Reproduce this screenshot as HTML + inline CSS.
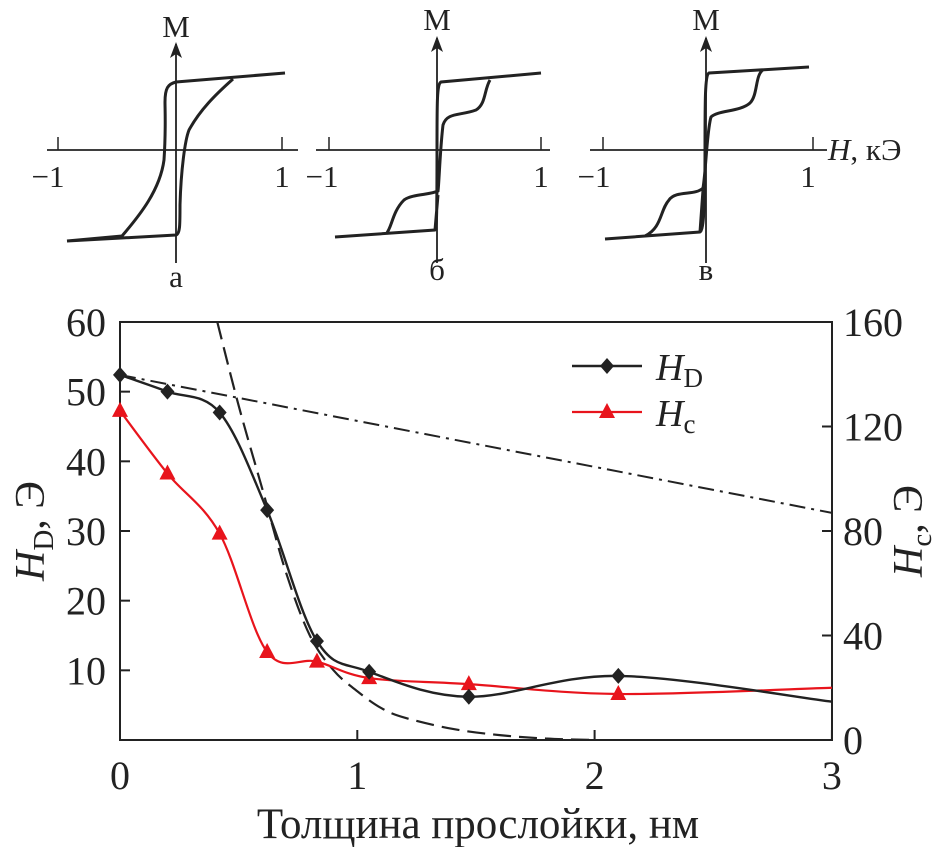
<!DOCTYPE html>
<html><head><meta charset="utf-8"><style>
html,body{margin:0;padding:0;background:#fff}
svg{display:block;font-family:"Liberation Serif",serif}
</style></head><body>
<svg id="c" width="949" height="847" viewBox="0 0 949 847" xmlns="http://www.w3.org/2000/svg">
<defs><marker id="ar" markerWidth="16" markerHeight="12" refX="14" refY="6" orient="auto" markerUnits="userSpaceOnUse"><path d="M0,0 L16,6 L0,12 L4,6 Z" fill="#222"/></marker></defs>
<g fill="none" stroke="#222" stroke-width="2">
 <g>
  <line x1="47" y1="150" x2="298" y2="150" stroke-width="1.8"/>
  <line x1="176" y1="263" x2="176" y2="44" stroke-width="1.8" marker-end="url(#ar)"/>
  <line x1="58" y1="137" x2="58" y2="150" stroke-width="1.5"/><line x1="282" y1="137" x2="282" y2="150" stroke-width="1.5"/>
  <path stroke-width="3" d="M67,241 L176,235 C180,234 180,225 180,205 C181,170 185,140 189,130 C200,110 215,95 233,79 M67,241 L122,236 C140,215 160,190 164,160 C166,130 165,110 165,102 C165,88 168,84 176,82 L285,73"/>
 </g>
 <g>
  <line x1="316" y1="150" x2="550" y2="150" stroke-width="1.8"/>
  <line x1="437" y1="263" x2="437" y2="38" stroke-width="1.8" marker-end="url(#ar)"/>
  <line x1="329" y1="137" x2="329" y2="150" stroke-width="1.5"/><line x1="541" y1="137" x2="541" y2="150" stroke-width="1.5"/>
  <path stroke-width="3" d="M335,237 L435,230 C437,229 437,200 437,150 C437,100 437,84 441,82 L541,73 M490,80 C484,90 486,104 476,110 C460,116 447,112 443,125 C440,150 439,185 438,191 C430,195 412,194 404,200 C392,212 392,228 386,234 M435,230 L438,195"/>
 </g>
 <g>
  <line x1="590" y1="150" x2="827" y2="150" stroke-width="1.8"/>
  <line x1="706" y1="263" x2="706" y2="38" stroke-width="1.8" marker-end="url(#ar)"/>
  <line x1="603" y1="137" x2="603" y2="150" stroke-width="1.5"/><line x1="813" y1="137" x2="813" y2="150" stroke-width="1.5"/>
  <path stroke-width="3" d="M605,239 L700,232 C704,231 705,200 705,150 C705,100 705,75 709,73 L809,67 M763,70 C755,75 758,95 750,103 C740,112 718,110 711,117 C707,130 706,170 703,188 C695,196 676,190 669,200 C660,210 662,228 645,236 M700,232 L703,190"/>
 </g>
</g>
<g fill="#222" font-size="31">
 <text x="176" y="37" text-anchor="middle">M</text>
 <text x="437" y="30" text-anchor="middle">M</text>
 <text x="706" y="30" text-anchor="middle">M</text>
 <text x="48" y="187" text-anchor="middle">−1</text>
 <text x="282" y="187" text-anchor="middle">1</text>
 <text x="322" y="187" text-anchor="middle">−1</text>
 <text x="541" y="187" text-anchor="middle">1</text>
 <text x="594" y="187" text-anchor="middle">−1</text>
 <text x="808" y="187" text-anchor="middle">1</text>
 <text x="828" y="160"><tspan font-style="italic">H</tspan>, кЭ</text>
 <text x="176" y="287" text-anchor="middle">а</text>
 <text x="437" y="280" text-anchor="middle">б</text>
 <text x="706" y="280" text-anchor="middle">в</text>
</g>
<g id="main"></g>
</svg>
<script>
const xTicks=[0,1,2,3];
const yLeftTicks=[10,20,30,40,50,60];
const yRightTicks=[0,40,80,120,160];
const hdX=[0,0.2,0.42,0.62,0.83,1.05,1.47,2.1];
const hdY=[52.4,50,47,33,14.2,9.8,6.2,9.2];
const hdCurveEnd=[3,5.5];
const hcX=[0,0.2,0.42,0.62,0.83,1.05,1.47,2.1];
const hcY=[126,102,79,33.7,30,23.7,21.4,17.6];
const hcCurveEnd=[3,20];
const dashX=[0.41,0.5,0.6,0.7,0.8,0.9,1.0,1.1,1.2,1.4,1.6,1.8,2.0];
const dashY=[60,48,36,24,15,10,7,4.6,3.2,1.6,0.7,0.2,0];
const dotDashY=[52.4,32.6];

const X=v=>120+v*237.3, YL=v=>740-v*6.967, YR=v=>740-v*2.6125;
const NS="http://www.w3.org/2000/svg", g=document.getElementById('main');
function mk(t,a,p){const e=document.createElementNS(NS,t);for(const k in a)e.setAttribute(k,a[k]);(p||g).appendChild(e);return e;}
function smooth(pts){let d="M"+pts[0][0]+","+pts[0][1];for(let i=0;i<pts.length-1;i++){const p0=pts[i-1]||pts[i],p1=pts[i],p2=pts[i+1],p3=pts[i+2]||p2;
 d+=` C${p1[0]+(p2[0]-p0[0])/6},${p1[1]+(p2[1]-p0[1])/6} ${p2[0]-(p3[0]-p1[0])/6},${p2[1]-(p3[1]-p1[1])/6} ${p2[0]},${p2[1]}`;}return d;}
let e=mk('rect',{x:120,y:322,width:712,height:418,fill:'none',stroke:'#222','stroke-width':2});


xTicks.forEach(v=>{let t=mk('line',{x1:X(v),y1:740,x2:X(v),y2:730,stroke:'#222','stroke-width':2});
 
 
 let l=mk('text',{x:X(v),y:789,'text-anchor':'middle','font-size':40,fill:'#222'});l.textContent=v;
 
 });
[0].concat(yLeftTicks).forEach(v=>{let t=mk('line',{x1:120,y1:YL(v),x2:130,y2:YL(v),stroke:'#222','stroke-width':2});
 
 
 if(v>0){let l=mk('text',{x:106,y:YL(v)+14,'text-anchor':'end','font-size':40,fill:'#222'});l.textContent=v;
 
 }});
yRightTicks.forEach(v=>{let t=mk('line',{x1:822,y1:YR(v),x2:832,y2:YR(v),stroke:'#222','stroke-width':2});
 
 
 let l=mk('text',{x:843,y:YR(v)+14,'font-size':40,fill:'#222'});l.textContent=v;
 
 });
let xt=mk('text',{x:478,y:838,'text-anchor':'middle','font-size':43,fill:'#222'});xt.textContent='Толщина прослойки, нм';


let yl=mk('text',{transform:'translate(44,531) rotate(-90)','text-anchor':'middle','font-size':42,fill:'#222'});
yl.innerHTML='<tspan font-style="italic">H</tspan><tspan font-size="29" dy="9">D</tspan><tspan dy="-9">, Э</tspan>';


let yr=mk('text',{transform:'translate(922,531) rotate(-90)','text-anchor':'middle','font-size':42,fill:'#222'});
yr.innerHTML='<tspan font-style="italic">H</tspan><tspan font-size="29" dy="9">c</tspan><tspan dy="-9">, Э</tspan>';


const cp=mk('clipPath',{id:'cp'});
mk('rect',{x:120,y:322,width:712,height:418},cp);
let dd=mk('line',{x1:X(0),y1:YL(dotDashY[0]),x2:X(3),y2:YL(dotDashY[1]),stroke:'#222','stroke-width':2,'stroke-dasharray':'16,6,3,6'});


let ds=mk('path',{d:smooth(dashX.map((x,i)=>[X(x),YL(dashY[i])])),fill:'none',stroke:'#222','stroke-width':2.2,'stroke-dasharray':'18,8','clip-path':'url(#cp)'});


let hcP=hcX.map((x,i)=>[X(x),YR(hcY[i])]).concat([[X(hcCurveEnd[0]),YR(hcCurveEnd[1])]]);
let hl=mk('path',{d:smooth(hcP),fill:'none',stroke:'#e8141c','stroke-width':2.2});


let hdP=hdX.map((x,i)=>[X(x),YL(hdY[i])]).concat([[X(hdCurveEnd[0]),YL(hdCurveEnd[1])]]);
let dl=mk('path',{d:smooth(hdP),fill:'none',stroke:'#222','stroke-width':2.4});


hcX.forEach((x,i)=>{const cx=X(x),cy=YR(hcY[i]);let m=mk('path',{d:`M${cx},${cy-9} L${cx+8},${cy+6} L${cx-8},${cy+6} Z`,fill:'#e8141c'});
 
 });
hdX.forEach((x,i)=>{const cx=X(x),cy=YL(hdY[i]);let m=mk('path',{d:`M${cx},${cy-8} L${cx+7},${cy} L${cx},${cy+8} L${cx-7},${cy} Z`,fill:'#222'});
 
 });
let lg=mk('g',{});


mk('line',{x1:572,y1:366,x2:642,y2:366,stroke:'#222','stroke-width':2.4},lg);
mk('path',{d:'M607,358 L614,366 L607,374 L600,366 Z',fill:'#222'},lg);
let t1=mk('text',{x:656,y:380,'font-size':38,fill:'#222'},lg);t1.innerHTML='<tspan font-style="italic">H</tspan><tspan font-size="27" dy="7">D</tspan>';


mk('line',{x1:572,y1:412,x2:642,y2:412,stroke:'#e8141c','stroke-width':2.2},lg);
mk('path',{d:'M607,403 L615,418 L599,418 Z',fill:'#e8141c'},lg);
let t2=mk('text',{x:656,y:426,'font-size':38,fill:'#222'},lg);t2.innerHTML='<tspan font-style="italic">H</tspan><tspan font-size="27" dy="7">c</tspan>';


</script>
</body></html>
